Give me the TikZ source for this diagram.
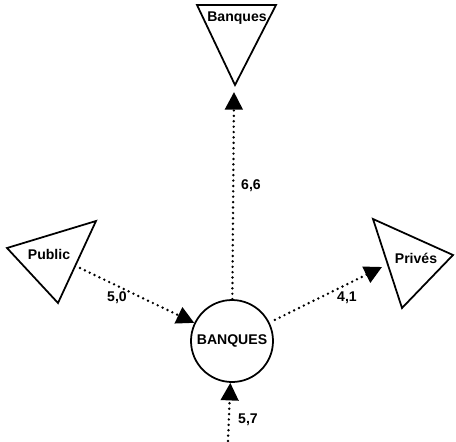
\documentclass[tikz,border=0pt]{standalone}
\usepackage{fontspec}
\setmainfont{Liberation Sans}
\usetikzlibrary{arrows.meta}
\tikzset{
  flow/.style={line width=2.3pt, dash pattern=on 0pt off 4.6pt, line cap=round,
    -{Triangle[length=15pt,width=15pt]}},
  sector/.style={draw, line width=1.5pt, line join=miter},
  txt/.style={font=\bfseries\fontsize{12}{14}\selectfont, inner sep=1pt},
}
\begin{document}
\begin{tikzpicture}[x=0.03cm,y=-0.03cm]
\useasboundingbox (0,0) rectangle (456,441);
% the three counterparts
\draw[sector] (197,5) -- (276,5) -- (235,85) -- cycle;
\node[txt] (banqSec) at (237,18) {Banques};
\draw[sector] (7,248) -- (96,221) -- (58,303) -- cycle;
\node[txt] (public) at (49,254) {Public};
\draw[sector] (373,219) -- (453,255) -- (402,308) -- cycle;
\node[txt] (prives) at (416,258) {Privés};
% the sector
\node[txt, draw, circle, line width=1.5pt, minimum size=2.46cm] (banques) at (232,341) {BANQUES};
% ends of the flows
\coordinate (banqIn) at (234,92);
\coordinate (pubOut) at (80,268);
\coordinate (priIn) at (382,267);
\coordinate (src) at (228,441);
% flows
\draw[flow] (banques) -- (banqIn);
\draw[flow] (pubOut) -- (banques);
\draw[flow, shorten <=5pt] (banques) -- (priIn);
\draw[flow] (src) -- (banques);
% amounts
\node[txt] (v66) at (251,186) {6,6};
\node[txt] (v50) at (117,298) {5,0};
\node[txt] (v41) at (347,298) {4,1};
\node[txt] (v57) at (248,420) {5,7};
\end{tikzpicture}
\end{document}
